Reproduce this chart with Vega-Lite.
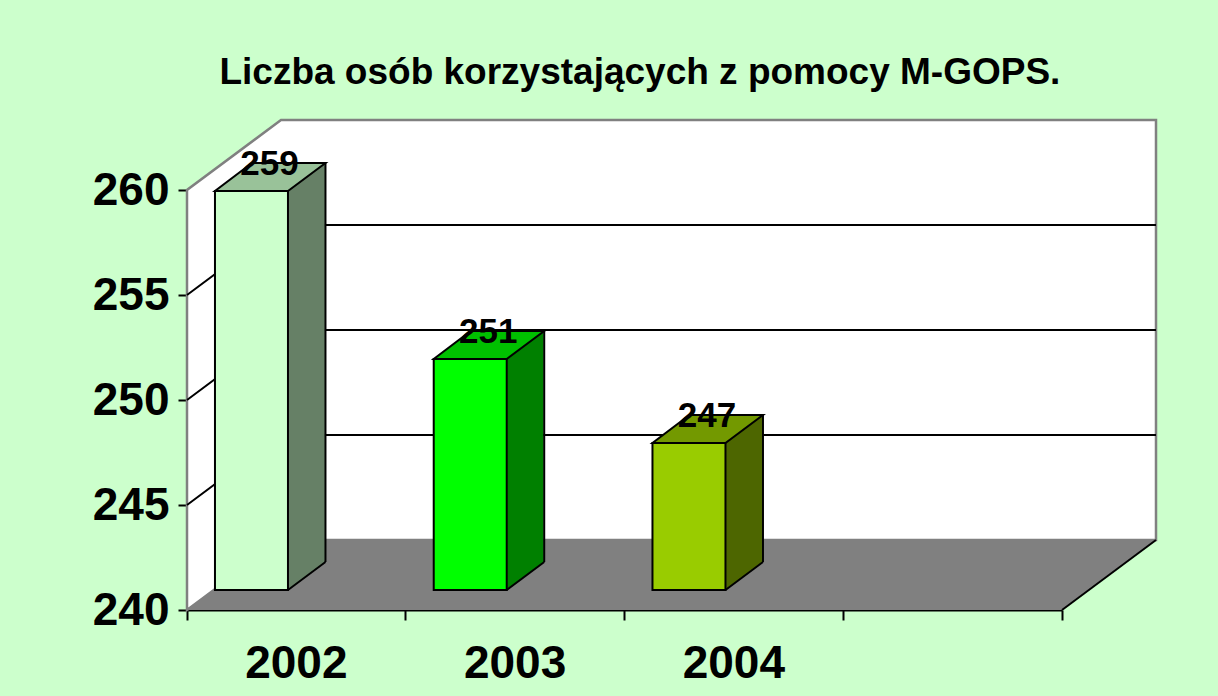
{
  "$schema": "https://vega.github.io/schema/vega-lite/v6.json",
  "width": 875,
  "height": 420,
  "autosize": {"type": "none"},
  "padding": {"left": 187, "top": 190, "right": 156, "bottom": 86},
  "background": "#CCFFCC",
  "config": {"view": {"stroke": null}, "font": "Liberation Sans"},
  "title": {
    "text": "Liczba osób korzystających z pomocy M-GOPS.",
    "fontSize": 37,
    "fontWeight": "bold",
    "font": "Liberation Sans",
    "color": "black",
    "anchor": "middle",
    "frame": "group",
    "dx": 15.4,
    "dy": 6,
    "baseline": "alphabetic",
    "offset": 0
  },
  "data": {
    "values": [
      {"year": "2002", "value": 259},
      {"year": "2003", "value": 251},
      {"year": "2004", "value": 247}
    ]
  },
  "encoding": {
    "x": {
      "field": "year",
      "type": "nominal",
      "title": null,
      "scale": {"domain": ["2002", "2003", "2004", " "], "paddingInner": 0, "paddingOuter": 0},
      "axis": {
        "title": null,
        "grid": false,
        "domain": true,
        "domainColor": "black",
        "domainWidth": 2,
        "ticks": true,
        "tickColor": "black",
        "tickWidth": 2,
        "tickSize": 10,
        "bandPosition": 1,
        "tickExtra": true,
        "labelAngle": 0,
        "labelFont": "Liberation Sans",
        "labelFontSize": 46,
        "labelFontWeight": "bold",
        "labelColor": "black",
        "labelBaseline": "alphabetic",
        "labelPadding": 57,
        "labelOverlap": false,
        "labelBound": false
      }
    },
    "y": {
      "field": "value",
      "type": "quantitative",
      "title": null,
      "scale": {"domain": [240, 260], "nice": false, "zero": false},
      "axis": {
        "title": null,
        "grid": false,
        "values": [240, 245, 250, 255, 260],
        "domain": true,
        "domainColor": "black",
        "domainWidth": 2,
        "ticks": true,
        "tickColor": "black",
        "tickWidth": 2,
        "tickSize": 9,
        "labelFont": "Liberation Sans",
        "labelFontSize": 46,
        "labelFontWeight": "bold",
        "labelColor": "black",
        "labelPadding": 9,
        "labelOverlap": false,
        "labelBound": false,
        "labelFlush": false
      }
    }
  },
  "layer": [
    {
      "data": {"values": [{"v": 240}]},
      "mark": {"type": "point", "shape": "M0,0L8.75,0L9.69,-0.7L0.94,-0.7Z", "size": 40000, "filled": true, "fill": "#808080", "strokeWidth": 0, "opacity": 1, "xOffset": -109.375},
      "encoding": {"x": {"datum": "2002"}, "y": {"field": "v", "type": "quantitative", "title": null}}
    },
    {
      "data": {"values": [{"v": 240}]},
      "mark": {"type": "point", "shape": "M0,0L0,-4.2L0.94,-4.9L9.69,-4.9L9.69,-0.7L0.94,-0.7Z", "size": 40000, "filled": true, "fill": "white", "stroke": "#808080", "strokeWidth": 2.5, "opacity": 1, "xOffset": -109.375},
      "encoding": {"x": {"datum": "2002"}, "y": {"field": "v", "type": "quantitative", "title": null}}
    },
    {
      "data": {"values": [{"v": 245}, {"v": 250}, {"v": 255}]},
      "mark": {"type": "point", "shape": "M0,0L0.94,-0.7L9.69,-0.7", "size": 40000, "filled": false, "color": "black", "strokeWidth": 2, "opacity": 1, "xOffset": -109.375},
      "encoding": {"x": {"datum": "2002"}, "y": {"field": "v", "type": "quantitative", "title": null}}
    },
    {
      "data": {"values": [{"v": 240}]},
      "mark": {"type": "point", "shape": "M8.75,0L9.69,-0.7", "size": 40000, "filled": false, "color": "black", "strokeWidth": 2, "opacity": 1, "xOffset": -109.375},
      "encoding": {"x": {"datum": "2002"}, "y": {"field": "v", "type": "quantitative", "title": null}}
    },
    {
      "mark": {"type": "bar", "width": 37, "xOffset": 10.1, "yOffset": -48, "y2Offset": -20, "strokeWidth": 0, "opacity": 1},
      "encoding": {
        "y2": {"datum": 240},
        "fill": {"field": "year", "type": "nominal", "scale": {"domain": ["2002", "2003", "2004"], "range": ["#668066", "#008000", "#4D6600"]}, "legend": null}
      }
    },
    {
      "mark": {"type": "point", "shape": "M-0.084,-0.2L0.294,-0.2L0.294,-0.482Z", "size": 40000, "filled": true, "fill": "#808080", "strokeWidth": 0, "opacity": 1},
      "encoding": {"y": {"datum": 240}}
    },
    {
      "mark": {"type": "bar", "width": 73, "xOffset": -44.9, "yOffset": -20, "y2Offset": -20, "stroke": "black", "strokeWidth": 2, "opacity": 1},
      "encoding": {
        "y2": {"datum": 240},
        "fill": {"field": "year", "type": "nominal", "scale": {"domain": ["2002", "2003", "2004"], "range": ["#CCFFCC", "#00FF00", "#99CC00"]}, "legend": null}
      }
    },
    {
      "mark": {"type": "point", "shape": "M-0.814,-0.2L-0.084,-0.2L0.291,-0.48L-0.444,-0.48Z", "size": 40000, "filled": true, "stroke": "black", "strokeWidth": 2, "opacity": 1},
      "encoding": {
        "fill": {"field": "year", "type": "nominal", "scale": {"domain": ["2002", "2003", "2004"], "range": ["#99C299", "#00C000", "#739900"]}, "legend": null}
      }
    },
    {
      "mark": {"type": "rule", "xOffset": 29.1, "yOffset": -48, "y2Offset": -48, "color": "black", "strokeWidth": 2},
      "encoding": {"y2": {"datum": 240}}
    },
    {
      "mark": {"type": "point", "shape": "M-0.084,-0.2L0.291,-0.48", "size": 40000, "filled": false, "color": "black", "strokeWidth": 2, "opacity": 1},
      "encoding": {"y": {"datum": 240}}
    },
    {
      "mark": {"type": "text", "dx": -26.9, "dy": -36, "baseline": "alphabetic", "align": "center", "font": "Liberation Sans", "fontSize": 35, "fontWeight": "bold", "color": "black"},
      "encoding": {"text": {"field": "value", "type": "quantitative"}}
    }
  ],
  "resolve": {"scale": {"fill": "independent"}}
}
